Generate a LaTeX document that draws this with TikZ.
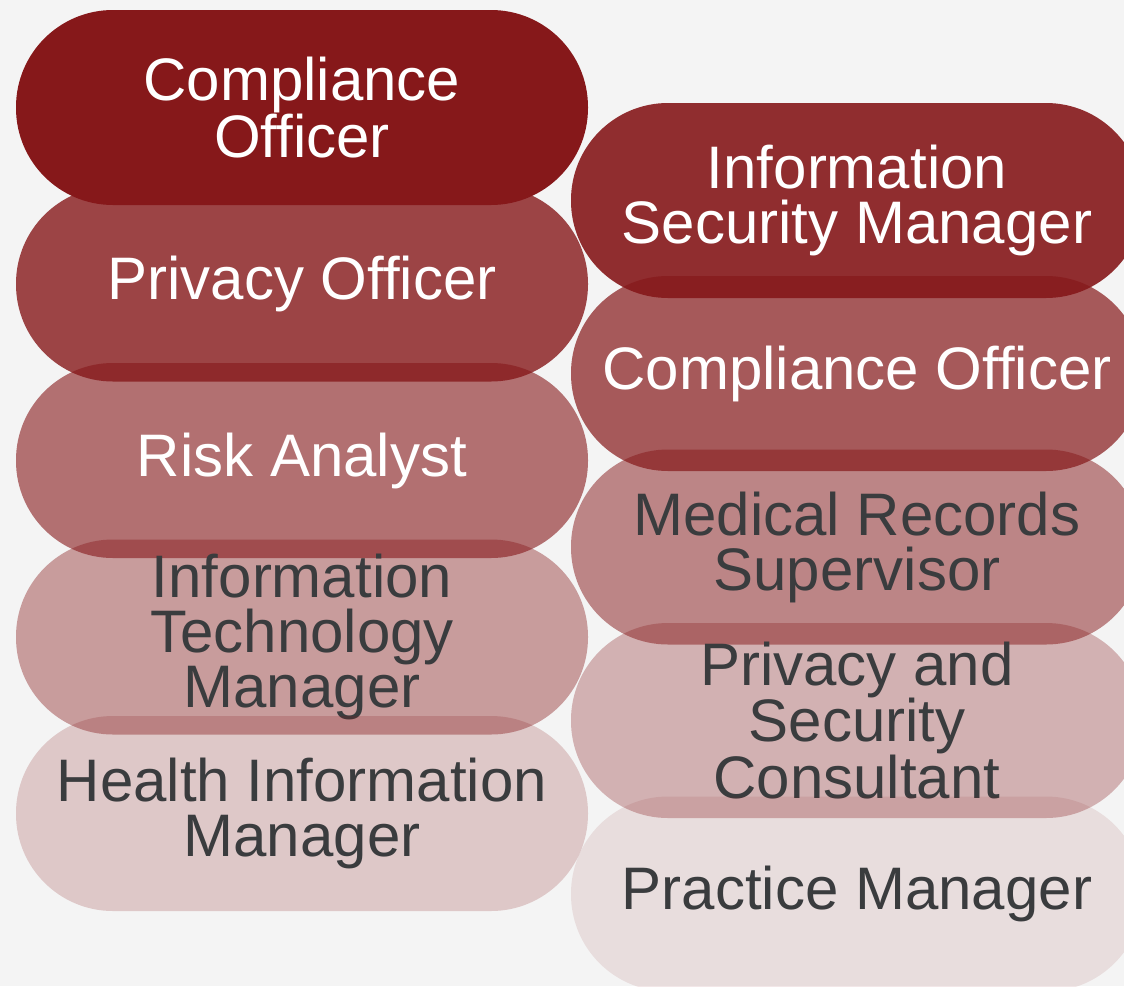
\documentclass[tikz,border=0pt]{standalone}
\usepackage{fontspec}
\setmainfont{Liberation Sans}
\definecolor{base}{HTML}{86181A}
\definecolor{bg}{HTML}{F4F4F4}
\definecolor{dark}{HTML}{3A3C3E}
\begin{document}
\begin{tikzpicture}[x=1pt,y=-1pt,
  pill/.style={rectangle, rounded corners=97pt, minimum width=572pt, minimum height=195pt,
    inner sep=0pt, fill=base, text opacity=1, align=center,
    font=\fontsize{60}{55}\selectfont},
  lt/.style={text=white},
  dk/.style={text=dark}]
\fill[bg] (0,0) rectangle (1124,986);
\useasboundingbox (0,0) rectangle (1124,986);
\clip (0,0) rectangle (1124,986);
% left column
\node[pill, fill opacity=1.0, lt] (l1) at (302,107.5) {Compliance\\Officer};
\node[pill, fill opacity=0.8, lt] (l2) at (302,284) {Privacy Officer};
\node[pill, fill opacity=0.6, lt] (l3) at (302,460.5) {Risk Analyst};
\node[pill, fill opacity=0.4, dk] (l4) at (302,637) {Information\\Technology\\Manager};
\node[pill, fill opacity=0.2, dk] (l5) at (302,813.5) {Health Information\\Manager};
% right column
\node[pill, fill opacity=0.9, lt] (r1) at (857,200.5) {Information\\Security Manager};
\node[pill, fill opacity=0.7, lt] (r2) at (857,373.5) {Compliance Officer};
\node[pill, fill opacity=0.5, dk] (r3) at (857,547) {Medical Records\\Supervisor};
\node[pill, fill opacity=0.3, dk] (r4) at (857,720.5) {Privacy and\\Security\\Consultant};
\node[pill, fill opacity=0.1, dk] (r5) at (857,894) {Practice Manager};
\end{tikzpicture}
\end{document}
